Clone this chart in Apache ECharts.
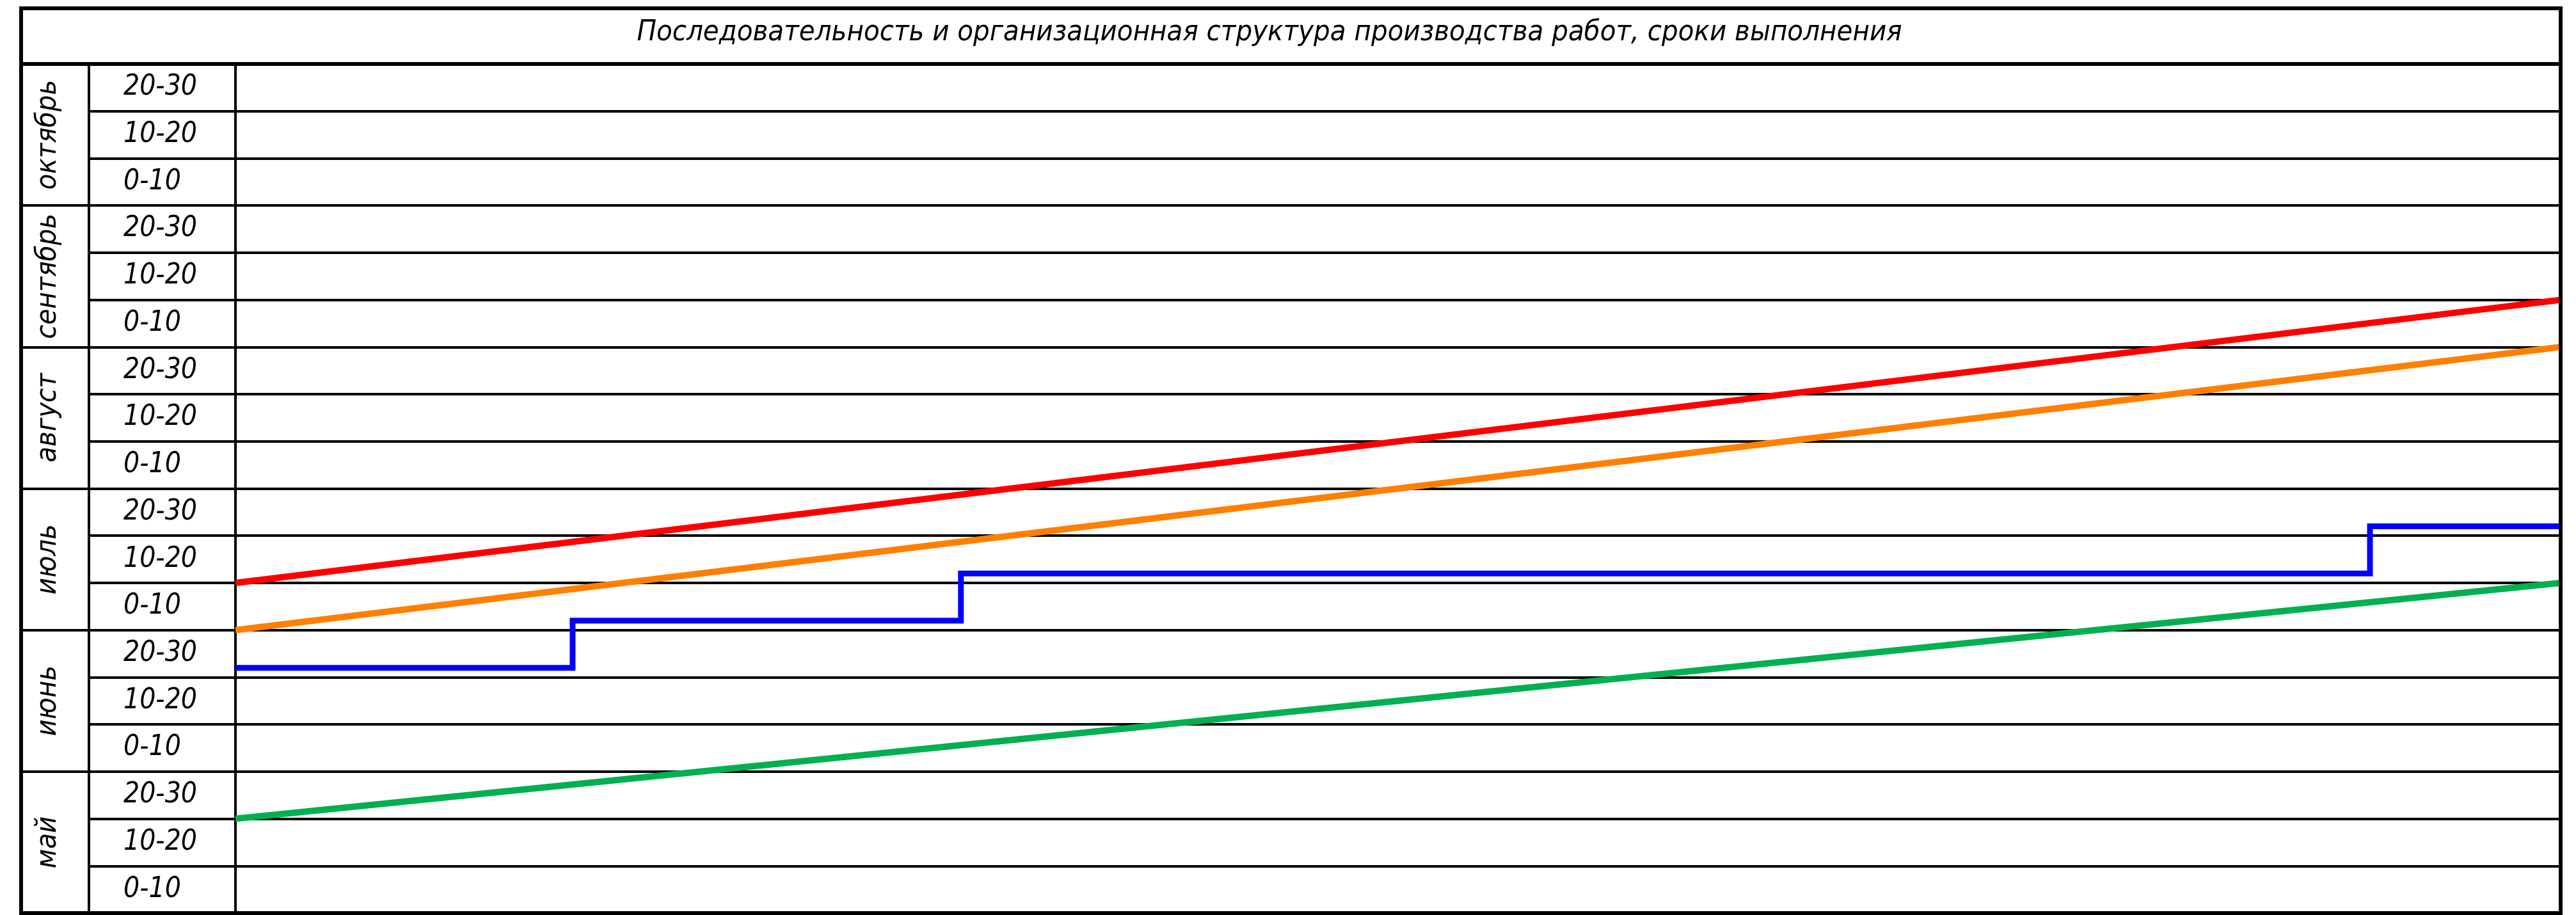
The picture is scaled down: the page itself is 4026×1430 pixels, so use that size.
<!DOCTYPE html>
<html>
<head>
<meta charset="utf-8">
<script src="https://cdn.jsdelivr.net/npm/echarts@6/dist/echarts.min.js"></script>
<style>
html,body{margin:0;padding:0;background:#fff;}
#chart{width:4026px;height:1430px;}
</style>
</head>
<body>
<div id="chart"></div>
<script>
// ---- data ----
const titleText = 'Последовательность и организационная структура производства работ, сроки выполнения';
const months = ['май', 'июнь', 'июль', 'август', 'сентябрь', 'октябрь'];
const decadeLabels = ['0-10', '10-20', '20-30'];
const rowLabels = months.flatMap(function () { return decadeLabels; });
// y in decades counted from 1 May (0) to 30 October (18); x in % of work
const redLine = [[0, 7], [100, 13]];
const orangeLine = [[0, 6], [100, 12]];
const greenLine = [[0, 2], [100, 7]];
const blueSteps = [[0, 5.2], [14.5, 6.2], [31.2, 7.2], [91.8, 8.2], [100, 8.2]];

const FONT = "'Liberation Sans Narrow', 'DejaVu Sans Condensed', sans-serif";
const BLACK = '#000000';

const chart = echarts.init(document.getElementById('chart'), null, {renderer: 'canvas', devicePixelRatio: 1});

const plot = {left: 368, top: 100, right: 4002, bottom: 1427};
const frame = {left: 33, top: 13};

chart.setOption({
  animation: false,
  backgroundColor: '#ffffff',
  title: {
    text: titleText,
    left: 1984,
    top: 29,
    textAlign: 'center',
    padding: 0,
    textStyle: {fontFamily: FONT, fontStyle: 'italic', fontWeight: 'normal', fontSize: 45, color: BLACK}
  },
  grid: [
    {left: plot.left, top: plot.top, width: plot.right - plot.left, height: plot.bottom - plot.top},
    {left: 139, top: plot.top, width: plot.left - 139, height: plot.bottom - plot.top},
    {left: frame.left, top: plot.top, width: 139 - frame.left, height: plot.bottom - plot.top}
  ],
  xAxis: [
    {gridIndex: 0, type: 'value', min: 0, max: 100, show: false},
    {gridIndex: 1, type: 'value', min: 0, max: 1, show: false},
    {gridIndex: 2, type: 'value', min: 0, max: 1, show: false}
  ],
  yAxis: [
    {
      gridIndex: 0, type: 'value', min: 0, max: 18, interval: 1,
      axisLine: {show: true, lineStyle: {color: BLACK, width: 4}},
      axisTick: {show: false}, axisLabel: {show: false},
      splitLine: {show: true, lineStyle: {color: BLACK, width: 4}}
    },
    {
      gridIndex: 1, type: 'category', data: rowLabels, boundaryGap: true,
      axisLine: {show: true, lineStyle: {color: BLACK, width: 4}},
      axisTick: {show: false},
      axisLabel: {
        inside: true, margin: 54, interval: 0,
        fontFamily: FONT, fontStyle: 'italic', fontSize: 44, color: BLACK,
        padding: [10, 0, 0, 0]
      },
      splitLine: {show: true, interval: 0, lineStyle: {color: BLACK, width: 4}}
    },
    {
      gridIndex: 2, type: 'category', data: months, boundaryGap: true,
      axisLine: {show: true, lineStyle: {color: BLACK, width: 5}},
      axisTick: {show: false},
      axisLabel: {
        inside: true, margin: 20, interval: 0, rotate: 90,
        fontFamily: FONT, fontStyle: 'italic', fontSize: 45, color: BLACK
      },
      splitLine: {show: true, interval: 0, lineStyle: {color: BLACK, width: 4}}
    }
  ],
  graphic: [
    {
      type: 'rect', silent: true, z: 100,
      shape: {x: frame.left, y: frame.top, width: plot.right - frame.left, height: plot.bottom - frame.top},
      style: {fill: 'none', stroke: BLACK, lineWidth: 6}
    },
    {
      type: 'line', silent: true, z: 100,
      shape: {x1: frame.left, y1: plot.top, x2: plot.right, y2: plot.top},
      style: {stroke: BLACK, lineWidth: 6}
    }
  ],
  series: [
    {type: 'line', name: 'red', xAxisIndex: 0, yAxisIndex: 0, data: redLine, showSymbol: false, silent: true, z: 5,
     lineStyle: {color: '#FF0000', width: 10}},
    {type: 'line', name: 'orange', xAxisIndex: 0, yAxisIndex: 0, data: orangeLine, showSymbol: false, silent: true, z: 5,
     lineStyle: {color: '#FF8000', width: 10}},
    {type: 'line', name: 'green', xAxisIndex: 0, yAxisIndex: 0, data: greenLine, showSymbol: false, silent: true, z: 5,
     lineStyle: {color: '#00B050', width: 10}},
    {type: 'line', name: 'blue', xAxisIndex: 0, yAxisIndex: 0, data: blueSteps, step: 'end', showSymbol: false, silent: true, z: 6,
     lineStyle: {color: '#0000FF', width: 9, join: 'miter'}}
  ]
});
</script>
</body>
</html>
